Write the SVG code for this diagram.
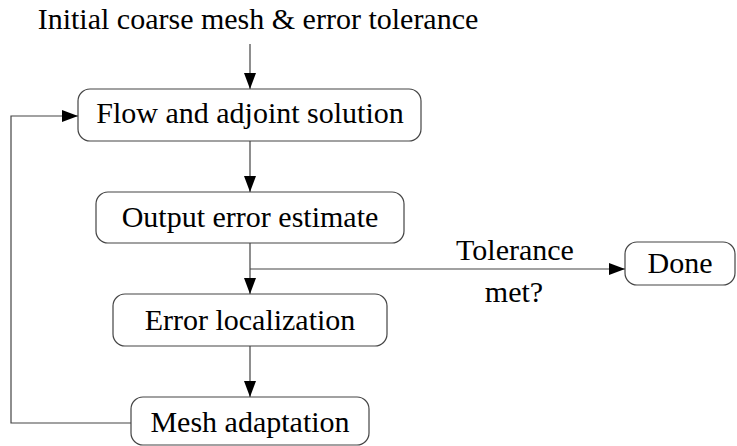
<svg xmlns="http://www.w3.org/2000/svg" width="737" height="446" viewBox="0 0 737 446">
<style>
.box{fill:#fff;stroke:#444;stroke-width:1.2}
.t{font-family:'Liberation Serif','Times New Roman',Times,serif;font-size:30px;fill:#000;text-anchor:middle}
.c{fill:none;stroke:#444;stroke-width:1.2}
</style>
<defs>
<marker id="ah" markerUnits="userSpaceOnUse" markerWidth="16" markerHeight="12" refX="16" refY="6" orient="auto">
<path d="M0,0 L16,6 L0,12 Z" fill="#000"/>
</marker>
</defs>
<rect width="737" height="446" fill="#fff"/>
<text class="t" x="258" y="29" font-family="Liberation Serif">Initial coarse mesh &amp; error tolerance</text>
<g id="connectors">
<line class="c" x1="250" y1="44" x2="250" y2="89" marker-end="url(#ah)"/>
<line class="c" x1="250" y1="141" x2="250" y2="192" marker-end="url(#ah)"/>
<line class="c" x1="250" y1="243" x2="250" y2="294" marker-end="url(#ah)"/>
<line class="c" x1="250" y1="269" x2="625" y2="269" marker-end="url(#ah)"/>
<line class="c" x1="250" y1="346" x2="250" y2="397" marker-end="url(#ah)"/>
<polyline class="c" points="131,423 11,423 11,116 78,116" marker-end="url(#ah)"/>
<text class="t" x="515" y="260">Tolerance</text>
<text class="t" x="514" y="302">met?</text>
</g>
<g id="flow">
<rect class="box" x="78" y="89" width="343" height="52" rx="12"/>
<text class="t" x="250" y="123">Flow and adjoint solution</text>
</g>
<g id="output">
<rect class="box" x="96" y="192" width="308" height="51" rx="12"/>
<text class="t" x="250" y="227">Output error estimate</text>
</g>
<g id="localization">
<rect class="box" x="113" y="294" width="274" height="52" rx="12"/>
<text class="t" x="250" y="330">Error localization</text>
</g>
<g id="adaptation">
<rect class="box" x="131" y="397" width="238" height="48" rx="12"/>
<text class="t" x="250" y="432">Mesh adaptation</text>
</g>
<g id="done">
<rect class="box" x="625" y="242" width="110" height="43" rx="12"/>
<text class="t" x="680" y="273">Done</text>
</g>
</svg>
